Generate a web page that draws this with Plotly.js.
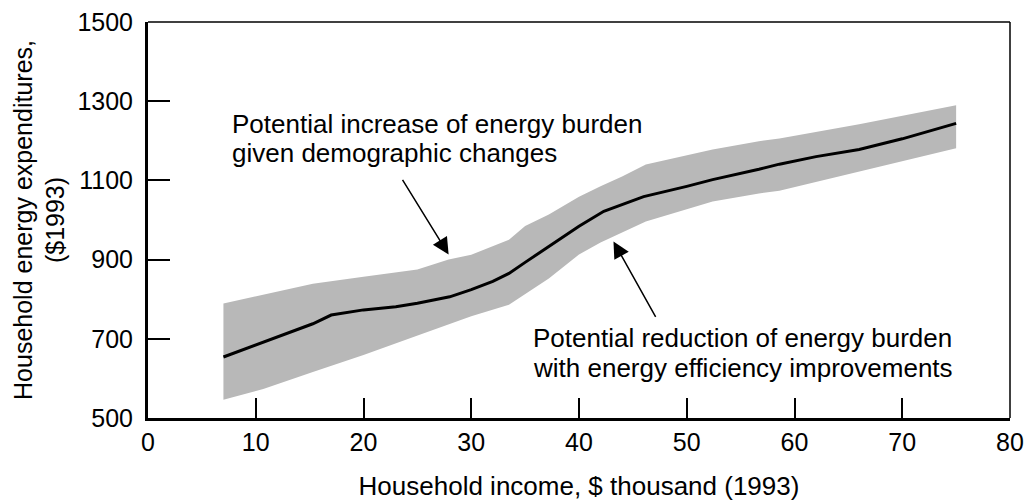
<!DOCTYPE html>
<html>
<head>
<meta charset="utf-8">
<script src="https://cdn.plot.ly/plotly-3.0.1.min.js"></script>
<style>html,body{margin:0;padding:0;background:#fff;}#chart{width:1029px;height:502px;}</style>
</head>
<body>
<div id="chart"></div>
<script>
// Central estimate: household energy expenditures vs income
const incomeLine = [7, 10, 13, 15.3, 17, 20, 23, 25, 28, 30, 32, 33.5, 35, 37, 40, 42.3, 46, 50, 52.4, 56.7, 58.6, 62, 66, 70, 75];
const expenditureLine = [654, 685, 715, 738, 760, 773, 781, 790, 806, 824, 845, 865, 893, 930, 984, 1022, 1059, 1085, 1102, 1128, 1141, 1160, 1178, 1205, 1244];

// Upper edge of band (potential increase)
const incomeUpper = [7, 10.7, 15.3, 20, 23.3, 25, 27.9, 30, 33.5, 35, 37.2, 40, 42, 44, 46.2, 52.4, 56.7, 58.6, 66, 75];
const expenditureUpper = [789, 811, 839, 857, 870, 875, 900, 912, 950, 985, 1014, 1059, 1085, 1110, 1140, 1178, 1199, 1206, 1242, 1290];

// Lower edge of band (potential reduction)
const incomeLower = [7, 10.7, 15.3, 20, 24.7, 30, 33.5, 37.2, 40, 42, 43.1, 46.2, 52.4, 56.7, 58.6, 66, 75];
const expenditureLower = [546, 573, 616, 659, 705, 757, 786, 852, 913, 943, 958, 996, 1047, 1067, 1074, 1123, 1181];

const xTickVals = [0, 10, 20, 30, 40, 50, 60, 70, 80];
const yTickVals = [500, 700, 900, 1100, 1300, 1500];

const increaseLines = ["Potential increase of energy burden", "given demographic changes"];
const reductionLines = ["Potential reduction of energy burden", "with energy efficiency improvements"];

const font = "'Liberation Sans', Arial, Helvetica, sans-serif";

const bandX = incomeUpper.concat(incomeLower.slice().reverse());
const bandY = expenditureUpper.concat(expenditureLower.slice().reverse());

const traces = [
  {
    x: bandX, y: bandY, type: 'scatter', mode: 'lines', fill: 'toself',
    fillcolor: 'rgb(184,184,184)', line: {width: 0},
    hoverinfo: 'skip', showlegend: false
  },
  {
    x: incomeLine, y: expenditureLine, type: 'scatter', mode: 'lines',
    line: {color: '#000', width: 3}, showlegend: false
  }
];

function textLine(txt, x, y) {
  return {x: x, y: y, xref: 'x', yref: 'y', xanchor: 'left', yanchor: 'middle', align: 'left',
          text: txt, showarrow: false, font: {size: 26}};
}

const layout = {
  width: 1029, height: 502,
  margin: {l: 148, r: 19, t: 22, b: 84},
  paper_bgcolor: '#fff', plot_bgcolor: '#fff',
  font: {family: font, color: '#000', size: 25},
  showlegend: false,
  xaxis: {
    range: [0, 80], tickvals: xTickVals, ticktext: xTickVals.map(String),
    ticks: 'inside', ticklen: 20, tickwidth: 2, tickcolor: '#000',
    showline: true, linewidth: 3, linecolor: '#000', showgrid: false, zeroline: false,
    ticklabelstandoff: 0,
    tickfont: {size: 25},
    title: {text: 'Household income, $ thousand (1993)', font: {size: 26}, standoff: 22}
  },
  yaxis: {
    range: [500, 1500], tickvals: yTickVals, ticktext: yTickVals.map(String),
    ticks: 'inside', ticklen: 22, tickwidth: 2, tickcolor: '#000',
    showline: true, linewidth: 3, linecolor: '#000', showgrid: false, zeroline: false,
    ticklabelstandoff: 7,
    tickfont: {size: 25},
    title: {text: 'Household energy expenditures,<br>($1993)', font: {size: 25}, standoff: 6}
  },
  shapes: [
    {type: 'line', xref: 'paper', yref: 'paper', x0: 0, x1: 1, y0: 1, y1: 1, line: {color: '#000', width: 1.5}},
    {type: 'line', xref: 'paper', yref: 'paper', x0: 1, x1: 1, y0: 0, y1: 1, line: {color: '#000', width: 1.5}}
  ],
  annotations: [
    {
      x: 27.9, y: 913, xref: 'x', yref: 'y', ax: -47, ay: -76,
      text: '', showarrow: true, arrowhead: 2, arrowsize: 2.2, arrowwidth: 1.5, arrowcolor: '#000'
    },
    {
      x: 43.2, y: 946, xref: 'x', yref: 'y', ax: 43, ay: 77,
      text: '', showarrow: true, arrowhead: 2, arrowsize: 2.2, arrowwidth: 1.5, arrowcolor: '#000'
    },
    textLine(increaseLines[0], 7.6, 1242),
    textLine(increaseLines[1], 7.6, 1168),
    textLine(reductionLines[0], 35.5, 703),
    textLine(reductionLines[1], 35.5, 627)
  ]
};

Plotly.newPlot('chart', traces, layout, {displayModeBar: false, staticPlot: true});
</script>
</body>
</html>
